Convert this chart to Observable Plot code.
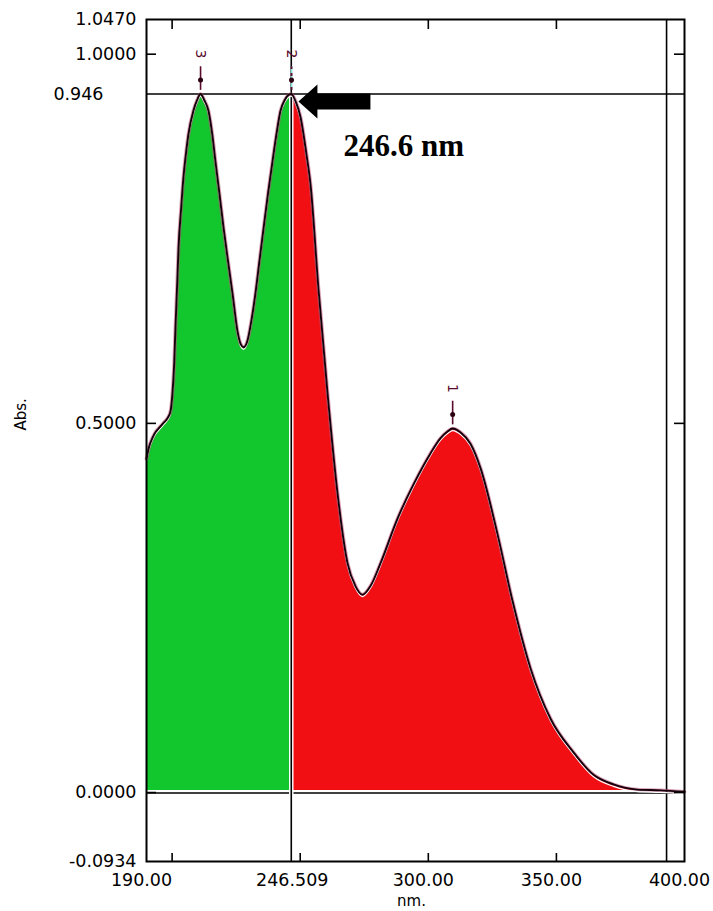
<!DOCTYPE html>
<html><head><meta charset="utf-8">
<script src="https://cdn.jsdelivr.net/npm/d3@7"></script>
<script src="https://cdn.jsdelivr.net/npm/@observablehq/plot@0.6"></script>
<style>body{margin:0;background:#fff}</style>
</head><body><div id="chart"></div>
<script>
// Spectrum (wavelength nm, absorbance)
const wavelength = [190.0,191.0,192.3,193.5,194.7,196.5,198.2,199.3,200.1,200.8,201.3,202.0,202.5,203.5,204.4,205.4,206.4,208.3,209.8,211.1,212.5,214.2,215.6,216.9,218.5,220.1,221.8,223.6,225.5,226.8,227.9,229.5,231.0,232.5,234.1,235.7,237.4,239.2,240.8,242.3,244.0,246.5,248.3,250.1,252.4,254.0,257.1,260.6,264.6,268.5,271.5,274.3,277.5,281.3,288.0,294.2,300.8,304.8,307.5,309.5,312.5,316.5,320.4,327.0,332.9,339.9,347.7,356.3,364.5,372.3,381.6,390.6,400.0];
const absorbance = [0.452,0.468,0.480,0.488,0.493,0.500,0.507,0.515,0.539,0.580,0.629,0.690,0.737,0.790,0.832,0.865,0.892,0.923,0.938,0.946,0.938,0.923,0.893,0.855,0.810,0.764,0.720,0.675,0.625,0.607,0.603,0.613,0.640,0.675,0.720,0.764,0.810,0.855,0.893,0.923,0.938,0.946,0.935,0.915,0.865,0.824,0.683,0.543,0.404,0.310,0.280,0.268,0.280,0.310,0.371,0.417,0.459,0.480,0.489,0.493,0.488,0.472,0.439,0.350,0.259,0.168,0.100,0.056,0.024,0.011,0.004,0.003,0.001];

const peakLabels = ["3", "2", "1"];
const peakWavelength = [211.1, 246.6, 309.5];
const peakAbsorbance = [0.946, 0.946, 0.493];

const cursorWavelength = 246.509;
const cursorLabel = "246.509";
const markerWavelength = 393;
const refAbsorbance = 0.946;
const refLabel = "0.946";

const xTickValues = [200, 250, 300, 350];
const yTickValues = [1.0, 0.5, 0];
const xLabelValues = [190, 300, 350, 400];
const xLabelText = ["190.00", "300.00", "350.00", "400.00"];
const yLabelValues = [1.047, 1.0, 0.5, 0, -0.0934];
const yLabelText = ["1.0470", "1.0000", "0.5000", "0.0000", "-0.0934"];

const annotationText = ["246.6 nm"];
const annotationWavelength = [266.9];
const annotationAbsorbance = [0.862];
const arrowWavelength = [249.3];
const arrowAbsorbance = [0.936];

const curve = wavelength.map((nm, i) => ({nm, abs: absorbance[i]}));
const greenPart = curve.filter(d => d.nm <= cursorWavelength);
const redPart = curve.filter(d => d.nm >= 246.5);
const peaks = peakLabels.map((label, i) => ({label, nm: peakWavelength[i], abs: peakAbsorbance[i]}));
const annotation = annotationText.map((t, i) => ({t, nm: annotationWavelength[i], abs: annotationAbsorbance[i]}));
const arrow = arrowWavelength.map((nm, i) => ({nm, abs: arrowAbsorbance[i]}));

const GREEN = "#12c62e";
const RED = "#f20f14";
const DARK = "#14000a";
const MAROON = "#5a0a2a";
const CURVE = "monotone-x";

// filled arrow shape, tip at origin, pointing left
const arrowSymbol = {
  draw(ctx) {
    ctx.moveTo(0, 0);
    ctx.lineTo(19, -17);
    ctx.lineTo(19, -8);
    ctx.lineTo(72, -8);
    ctx.lineTo(72, 8);
    ctx.lineTo(19, 8);
    ctx.lineTo(19, 17);
    ctx.closePath();
  }
};

const W = 713, H = 911, mL = 146, mR = 29, mT = 19, mB = 50;
const frameW = W - mL - mR, frameH = H - mT - mB;

const chart = Plot.plot({
  width: W, height: H,
  marginLeft: mL, marginRight: mR, marginTop: mT, marginBottom: mB,
  style: {fontFamily: "DejaVu Sans", fontSize: "17.5px", background: "white", color: "black"},
  x: {domain: [190, 400], axis: null},
  y: {domain: [-0.0934, 1.047], axis: null},
  marks: [
    Plot.areaY(greenPart, {x: "nm", y: "abs", fill: GREEN, curve: CURVE}),
    Plot.areaY(redPart, {x: "nm", y: "abs", fill: RED, curve: CURVE}),
    Plot.ruleY([0], {stroke: "white", strokeWidth: 2, dy: -1.5}),
    Plot.ruleY([0], {stroke: "black", strokeWidth: 1.6, dy: 0.5}),
    Plot.ruleX([cursorWavelength], {stroke: "white", strokeWidth: 4.5}),
    Plot.ruleX([cursorWavelength], {stroke: "black", strokeWidth: 1.6}),
    Plot.ruleX([markerWavelength], {stroke: "black", strokeWidth: 1.6}),
    Plot.ruleY([refAbsorbance], {stroke: "black", strokeWidth: 1.6}),
    // spectrum outline
    Plot.line(curve, {x: "nm", y: "abs", stroke: "#c0507a", strokeWidth: 3.8, strokeOpacity: 0.55, curve: CURVE}),
    Plot.line(curve, {x: "nm", y: "abs", stroke: "white", strokeWidth: 1.2, dy: 2, curve: CURVE}),
    Plot.line(curve, {x: "nm", y: "abs", stroke: DARK, strokeWidth: 1.9, curve: CURVE}),
    // peak pick markers
    Plot.ruleX(peaks.filter(d => d.label !== "2"), {x: "nm", y1: d => d.abs + 0.005, y2: d => d.abs + 0.037, stroke: MAROON, strokeWidth: 1.6}),
    Plot.ruleX(peaks.filter(d => d.label === "2"), {x: "nm", y1: d => d.abs + 0.005, y2: d => d.abs + 0.037, stroke: "#8fe8e0", strokeWidth: 1.6}),
    Plot.ruleX(peaks.filter(d => d.label === "2"), {x: "nm", y1: d => d.abs + 0.005, y2: d => d.abs + 0.037, stroke: MAROON, strokeWidth: 1.8, strokeDasharray: "3,4"}),
    Plot.dot(peaks, {x: "nm", y: "abs", dy: -14, r: 2.5, fill: "#2a0010", stroke: "none"}),
    Plot.text(peaks, {x: "nm", y: "abs", text: "label", dy: -40, rotate: 90, fill: MAROON, fontSize: 14}),
    // frame and inward ticks
    Plot.frame({stroke: "black", strokeWidth: 2}),
    Plot.tickX(xTickValues, {x: d => d, insetTop: frameH - 8, stroke: "black", strokeWidth: 1.6}),
    Plot.tickX(xTickValues, {x: d => d, insetBottom: frameH - 10, stroke: "black", strokeWidth: 1.6}),
    Plot.tickY(yTickValues, {y: d => d, insetRight: frameW - 10, stroke: "black", strokeWidth: 1.6}),
    Plot.tickY(yTickValues, {y: d => d, insetLeft: frameW - 10, stroke: "black", strokeWidth: 1.6}),
    // axis labels
    Plot.text(yLabelValues, {y: d => d, text: (d, i) => yLabelText[i], frameAnchor: "left", dx: -10, textAnchor: "end", fill: "black"}),
    Plot.text([refAbsorbance], {y: d => d, text: () => refLabel, frameAnchor: "left", dx: -43, textAnchor: "end", fill: "black"}),
    Plot.text(xLabelValues, {x: d => d, text: (d, i) => xLabelText[i], frameAnchor: "bottom", dy: 24, dx: -5, fill: "black"}),
    Plot.text([cursorWavelength], {x: d => d, text: () => cursorLabel, frameAnchor: "bottom", dy: 24, dx: 1, fill: "black"}),
    Plot.text(["Abs."], {text: d => d, frameAnchor: "left", dx: -125, dy: -10, rotate: -90, fontSize: 15, fill: "black"}),
    Plot.text(["nm."], {text: d => d, frameAnchor: "bottom", dx: -4, dy: 44, fontSize: 15, fill: "black"}),
    // annotation
    Plot.dot(arrow, {x: "nm", y: "abs", symbol: arrowSymbol, r: 5, fill: "black", stroke: "none"}),
    Plot.text(annotation, {x: "nm", y: "abs", text: "t", textAnchor: "start", lineAnchor: "bottom", fontFamily: "Liberation Serif", fontWeight: "bold", fontSize: 31, fill: "black"})
  ]
});
document.getElementById("chart").appendChild(chart);
</script>
</body></html>
